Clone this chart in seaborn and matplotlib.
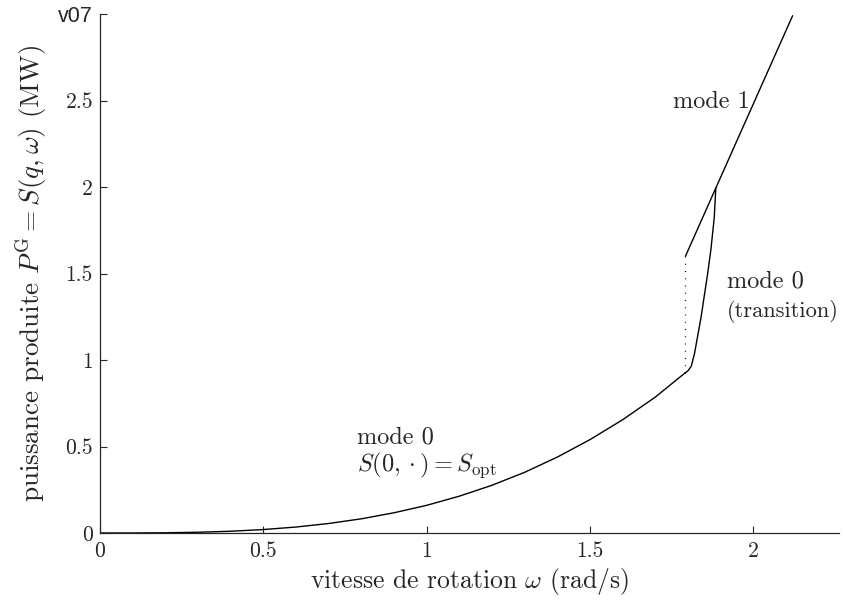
import matplotlib
matplotlib.use("Agg")
import matplotlib.pyplot as plt
import seaborn as sns
import pandas as pd

# ---- data ----
omega_mode0 = [0.0, 0.1, 0.2, 0.3, 0.4, 0.5, 0.6, 0.7, 0.8, 0.9, 1.0,
               1.1, 1.2, 1.3, 1.4, 1.5, 1.6, 1.7, 1.79]
p_mode0 = [0.0, 0.0002, 0.0013, 0.0043, 0.0102, 0.020, 0.0345, 0.055, 0.082,
           0.117, 0.160, 0.213, 0.276, 0.351, 0.439, 0.540, 0.655, 0.786, 0.924]

omega_trans = [1.79, 1.80, 1.81, 1.82, 1.84, 1.86, 1.87, 1.88, 1.885]
p_trans = [0.924, 0.938, 0.965, 1.04, 1.25, 1.50, 1.64, 1.82, 1.995]

omega_mode1 = [1.792, 2.12]
p_mode1 = [1.60, 2.99]

omega_dotted = [1.79, 1.79]
p_dotted = [0.924, 1.60]

xticks = [0, 0.5, 1, 1.5, 2]
xticklabels = ["0", "0.5", "1", "1.5", "2"]
yticks = [0, 0.5, 1, 1.5, 2, 2.5, 3]
yticklabels = ["0", "0.5", "1", "1.5", "2", "2.5", "v07"]

sns.set_style("ticks")
plt.rcParams["font.family"] = "serif"
plt.rcParams["font.serif"] = ["cmr10", "DejaVu Serif"]
plt.rcParams["mathtext.fontset"] = "cm"
plt.rcParams["axes.formatter.use_mathtext"] = True

fig = plt.figure(figsize=(8.44, 6.03), dpi=100)
ax = fig.add_axes([100 / 844, 70 / 603, 739 / 844, 519 / 603])

df0 = pd.DataFrame({"w": omega_mode0, "p": p_mode0})
dft = pd.DataFrame({"w": omega_trans, "p": p_trans})
df1 = pd.DataFrame({"w": omega_mode1, "p": p_mode1})
dfd = pd.DataFrame({"w": omega_dotted, "p": p_dotted})

kw = dict(color="black", linewidth=1.0, sort=False, estimator=None, ax=ax)
sns.lineplot(data=df0, x="w", y="p", **kw)
sns.lineplot(data=dft, x="w", y="p", **kw)
sns.lineplot(data=df1, x="w", y="p", **kw)
ax.plot(dfd["w"], dfd["p"], color="black", linewidth=0.9,
        linestyle=(0, (0.8, 5)))

ax.set_xlim(0, 2.262)
ax.set_ylim(0, 3)
sns.despine(ax=ax)
ax.spines["left"].set_linewidth(0.9)
ax.spines["bottom"].set_linewidth(0.9)

ax.set_xticks(xticks)
ax.set_xticklabels(xticklabels)
ax.set_yticks(yticks)
ax.set_yticklabels(yticklabels)
ax.tick_params(direction="in", length=5, width=0.8, labelsize=15.5)
ax.tick_params(axis="x", pad=6)
ax.tick_params(axis="y", pad=5)
lab = ax.get_yticklabels()[-1]
lab.set_fontfamily("Liberation Sans")
lab.set_fontsize(15.5)

ax.set_xlabel(r"vitesse de rotation $\omega$ (rad/s)", fontsize=18.5, labelpad=4)
ax.set_ylabel(r"puissance produite $P^{\rm G} = S(q,\omega)$ (MW)", fontsize=19.5,
              labelpad=6)

fs = 17.5
ax.text(1.99, 2.49, "mode 1", fontsize=fs, ha="right", va="center")
ax.text(1.92, 1.455, "mode 0", fontsize=fs, ha="left", va="center")
ax.text(1.92, 1.282, "(transition)", fontsize=16.2, ha="left", va="center")
ax.text(0.787, 0.554, "mode 0", fontsize=fs, ha="left", va="center")
ax.text(0.787, 0.393, r"$S(0,\cdot) = S_{\rm opt}$", fontsize=fs, ha="left",
        va="center")

fig.savefig("out.png", dpi=100)
